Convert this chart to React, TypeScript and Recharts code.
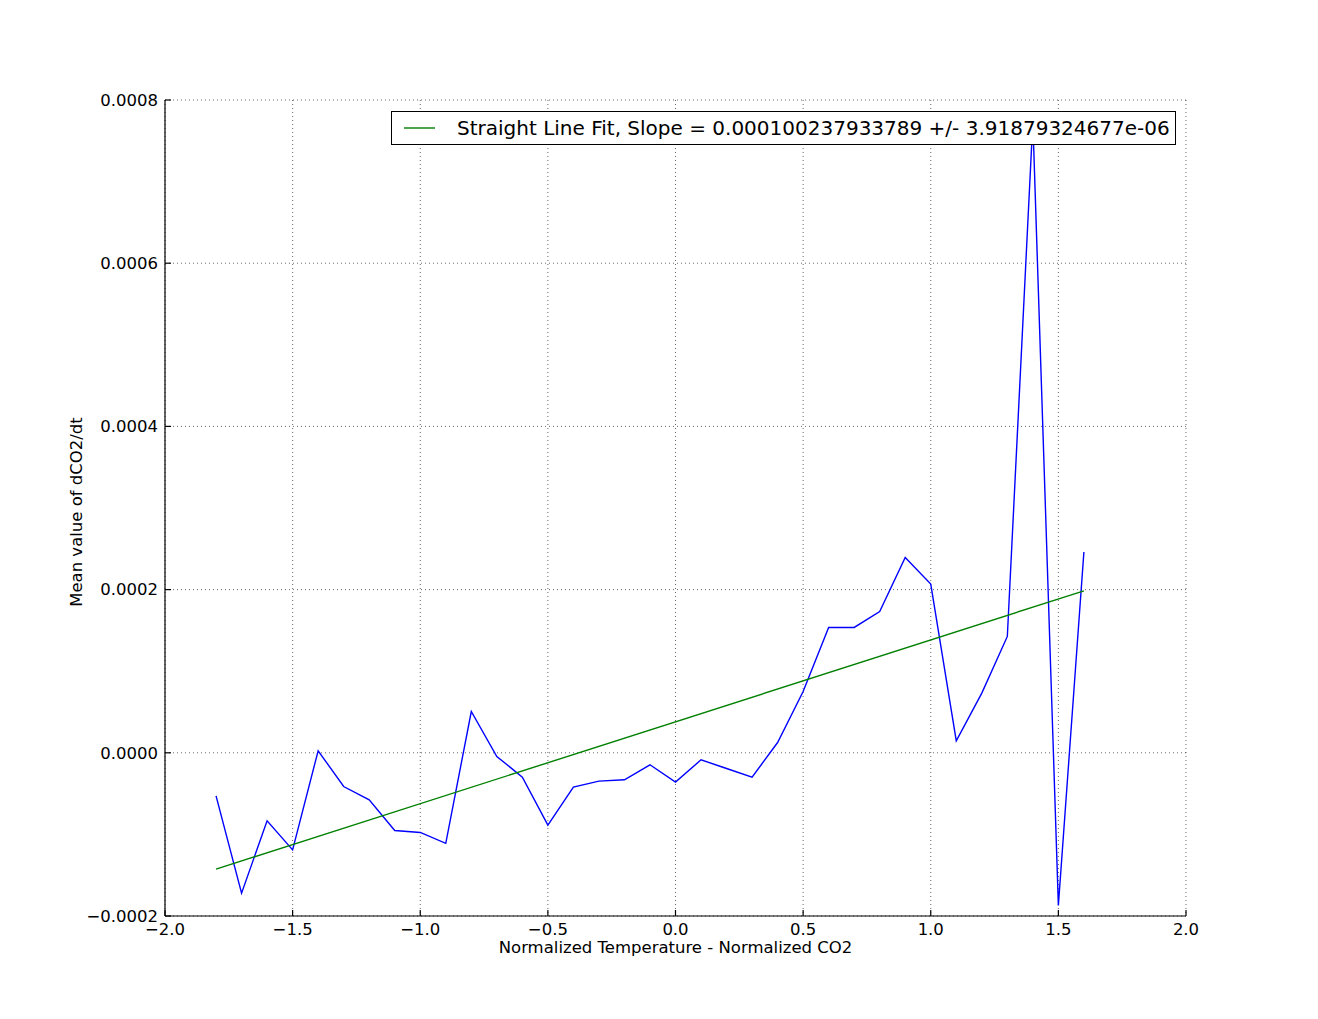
import { LineChart, Line, XAxis, YAxis, CartesianGrid, Legend } from "recharts";

// x positions of the binned means (normalized temperature - normalized CO2)
const binX = [
  -1.8, -1.7, -1.6, -1.5, -1.4, -1.3, -1.2, -1.1, -1.0, -0.9, -0.8, -0.7,
  -0.6, -0.5, -0.4, -0.3, -0.2, -0.1, 0.0, 0.1, 0.2, 0.3, 0.4, 0.5, 0.6,
  0.7, 0.8, 0.9, 1.0, 1.1, 1.2, 1.3, 1.4, 1.5, 1.6,
];

// mean dCO2/dt in each bin
const meanRate = [
  -0.0000527, -0.000172, -0.0000833, -0.000119, 0.0000025, -0.0000413,
  -0.0000576, -0.0000952, -0.0000976, -0.000111, 0.0000506, -0.0000045,
  -0.0000298, -0.0000886, -0.000042, -0.0000347, -0.0000331, -0.0000147,
  -0.0000359, -0.0000086, -0.0000192, -0.0000298, 0.0000126, 0.0000751,
  0.0001536, 0.0001536, 0.0001732, 0.0002394, 0.0002067, 0.0000147,
  0.0000731, 0.0001426, 0.000774, -0.000187, 0.000246,
];

// straight line fit end points
const fitX = [-1.8, 1.6];
const fitY = [-0.0001426, 0.0001985];

const xTicks = [-2, -1.5, -1, -0.5, 0, 0.5, 1, 1.5, 2];
const yTicks = [-0.0002, 0, 0.0002, 0.0004, 0.0006, 0.0008];

const fitLabel =
  "Straight Line Fit, Slope = 0.000100237933789 +/- 3.91879324677e-06";

const meanData = binX.map((x, i) => ({ x, y: meanRate[i] }));
const fitData = fitX.map((x, i) => ({ x, y: fitY[i] }));

const font = "'DejaVu Sans', sans-serif";
const tickStyle = { fill: "#000", fontSize: 16.5, fontFamily: font };

const fmtX = (v: number) => v.toFixed(1).replace("-", "\u2212");
const fmtY = (v: number) => v.toFixed(4).replace("-", "\u2212");

function FitLegend() {
  return (
    <div
      style={{
        boxSizing: "border-box",
        width: 785,
        height: 34,
        border: "1px solid #000",
        background: "#fff",
        display: "flex",
        alignItems: "center",
        fontFamily: font,
        fontSize: 20,
        color: "#000",
      }}
    >
      <svg width={65} height={20}>
        <line x1={12} x2={43} y1={10} y2={10} stroke="#008000" strokeWidth={1.4} />
      </svg>
      <span style={{ whiteSpace: "nowrap" }}>{fitLabel}</span>
    </div>
  );
}

export default function App() {
  return (
    <div style={{ position: "absolute", left: 0, top: 0, background: "#fff", fontFamily: font }}>
      <LineChart
        width={1318}
        height={1019}
        margin={{ top: 100, right: 132, left: 0, bottom: 0 }}
      >
        <CartesianGrid stroke="#000" strokeWidth={0.6} strokeDasharray="1 3" />
        <XAxis
          dataKey="x"
          type="number"
          domain={[-2, 2]}
          ticks={xTicks}
          tickFormatter={fmtX}
          height={103}
          stroke="#000"
          strokeWidth={1.2}
          tickSize={-6}
          tickMargin={13}
          tick={tickStyle}
          allowDataOverflow
          label={{
            content: (p: any) => (
              <text
                x={p.viewBox.x + p.viewBox.width / 2}
                y={p.viewBox.y + 37}
                textAnchor="middle"
                fontSize={16.5}
                fontFamily={font}
                fill="#000"
              >
                Normalized Temperature - Normalized CO2
              </text>
            ),
          }}
        />
        <XAxis
          xAxisId="top"
          orientation="top"
          type="number"
          domain={[-2, 2]}
          ticks={xTicks}
          height={0}
          stroke="#000"
          strokeWidth={1.2}
          tickSize={-6}
          tick={false}
          allowDataOverflow
        />
        <YAxis
          type="number"
          domain={[-0.0002, 0.0008]}
          ticks={yTicks}
          tickFormatter={fmtY}
          width={165}
          stroke="#000"
          strokeWidth={1.2}
          tickSize={-6}
          tickMargin={13}
          tick={tickStyle}
          allowDataOverflow
          label={{
            content: (p: any) => {
              const cx = 82;
              const cy = p.viewBox.y + p.viewBox.height / 2 + 4;
              return (
                <text
                  x={cx}
                  y={cy}
                  transform={`rotate(-90, ${cx}, ${cy})`}
                  textAnchor="middle"
                  fontSize={16.5}
                  fontFamily={font}
                  fill="#000"
                >
                  Mean value of dCO2/dt
                </text>
              );
            },
          }}
        />
        <YAxis
          yAxisId="right"
          orientation="right"
          type="number"
          domain={[-0.0002, 0.0008]}
          ticks={yTicks}
          width={0}
          stroke="#000"
          strokeWidth={1.2}
          tickSize={-6}
          tick={false}
          allowDataOverflow
        />
        <Line
          data={meanData}
          dataKey="y"
          name="mean"
          stroke="#0000ff"
          strokeWidth={1.4}
          dot={false}
          legendType="none"
          isAnimationActive={false}
        />
        <Line
          data={fitData}
          dataKey="y"
          name={fitLabel}
          stroke="#008000"
          strokeWidth={1.4}
          dot={false}
          isAnimationActive={false}
        />
        <Legend
          layout="horizontal"
          verticalAlign="middle"
          align="center"
          content={() => <FitLegend />}
          wrapperStyle={{ left: 391, top: 111, width: 785, height: 34 }}
        />
      </LineChart>
    </div>
  );
}
